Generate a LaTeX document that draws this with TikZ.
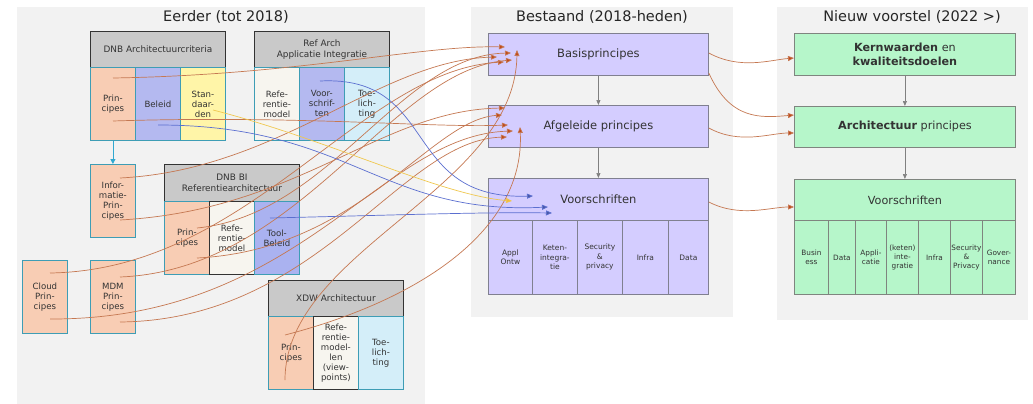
\documentclass[tikz,border=0pt]{standalone}
\usepackage{fontspec}
\setmainfont{DejaVu Sans}
\usetikzlibrary{arrows.meta}
\definecolor{panel}{HTML}{F2F2F2}
\definecolor{hdrgray}{HTML}{C9C9C9}
\definecolor{darkb}{HTML}{333333}
\definecolor{salmon}{HTML}{F8CDB4}
\definecolor{blueb}{HTML}{B4B9F0}
\definecolor{toolb}{HTML}{AAB2F0}
\definecolor{yellowb}{HTML}{FFF5A8}
\definecolor{offw}{HTML}{F7F5EF}
\definecolor{cyanl}{HTML}{D4EEF9}
\definecolor{tealb}{HTML}{3E9DB5}
\definecolor{lav}{HTML}{D4CDFF}
\definecolor{lavb}{HTML}{808090}
\definecolor{mint}{HTML}{B6F6CA}
\definecolor{mintb}{HTML}{7F857F}
\definecolor{txt}{HTML}{333333}
\definecolor{brownl}{HTML}{C57852}
\definecolor{browna}{HTML}{C04A1A}
\definecolor{bluel}{HTML}{5B6FD0}
\definecolor{yell}{HTML}{F0C850}
\definecolor{cyana}{HTML}{30A8D0}
\definecolor{grayarr}{HTML}{808080}
\begin{document}
\begin{tikzpicture}[x=1pt,y=-1pt,
  hdr/.style={draw=darkb, fill=hdrgray, line width=0.9pt, minimum width=135pt, minimum height=36pt, anchor=north west, inner sep=0pt, align=center, text=txt, font=\fontsize{8.9}{11}\selectfont},
  cell/.style={draw=tealb, line width=0.8pt, minimum width=45pt, minimum height=73pt, anchor=north west, inner sep=0pt, align=center, text=txt, font=\fontsize{8.6}{10}\selectfont},
  midbox/.style={draw=lavb, fill=lav, line width=0.8pt, minimum width=220pt, minimum height=42pt, anchor=north west, inner sep=0pt, align=center, text=txt, font=\fontsize{11.5}{13}\selectfont},
  midcell/.style={draw=lavb, fill=lav, line width=0.8pt, minimum height=74pt, anchor=north west, inner sep=0pt, align=center, text=txt, font=\fontsize{7.5}{9.5}\selectfont},
  newbox/.style={draw=mintb, fill=mint, line width=0.8pt, minimum width=221pt, minimum height=42pt, anchor=north west, inner sep=0pt, align=center, text=txt, font=\fontsize{11.2}{13.5}\selectfont},
  newcell/.style={draw=mintb, fill=mint, line width=0.8pt, minimum height=74pt, anchor=north west, inner sep=0pt, align=center, text=txt, font=\fontsize{7.3}{9.2}\selectfont},
  ttl/.style={anchor=base, text=black!85, font=\fontsize{14.5}{16}\selectfont},
  brn/.style={draw=brownl, line width=0.7pt, -{Triangle[length=6pt,width=5pt,fill=browna]}},
  blu/.style={draw=bluel, line width=0.7pt, -{Triangle[length=6pt,width=5pt,fill=bluel!80!black]}},
  yel/.style={draw=yell, line width=0.7pt, -{Triangle[length=6pt,width=5pt,fill=yell!80!orange]}},
  gra/.style={draw=grayarr, line width=0.7pt, -{Triangle[length=5pt,width=4pt]}},
  cya/.style={draw=cyana, line width=0.8pt, -{Triangle[length=5pt,width=5pt]}}
]
\useasboundingbox (0,0) rectangle (1033,404);
\fill[white] (0,0) rectangle (1033,404);
% panels
\fill[panel] (17,7) rectangle (425,404);
\fill[panel] (471,7) rectangle (733,317);
\fill[panel] (777,7) rectangle (1028,320);
% titles
\node[ttl] (t1) at (226,22) {Eerder (tot 2018)};
\node[ttl] (t2) at (602,22) {Bestaand (2018-heden)};
\node[ttl] (t3) at (912,22) {Nieuw voorstel (2022 >)};

% DNB Architectuurcriteria
\node[hdr] (dah) at (90,31) {DNB Architectuurcriteria};
\node[cell, fill=salmon] (dap) at (90,67) {Prin-\\cipes};
\node[cell, fill=blueb] (dab) at (135,67) {Beleid};
\node[cell, fill=yellowb] (das) at (180,67) {Stan-\\daar-\\den};
% Ref Arch
\node[hdr] (rah) at (254,31) {Ref Arch\\Applicatie Integratie};
\node[cell, fill=offw] (rar) at (254,67) {Refe-\\rentie-\\model};
\node[cell, fill=blueb] (rav) at (299,67) {Voor-\\schrif-\\ten};
\node[cell, fill=cyanl] (rat) at (344,67) {Toe-\\lich-\\ting};
% Informatie principes
\node[cell, fill=salmon] (ip) at (90,164) {Infor-\\matie-\\Prin-\\cipes};
% DNB BI
\node[hdr, minimum height=37pt] (bih) at (164,164) {DNB BI\\Referentiearchitectuur};
\node[cell, fill=salmon] (bip) at (164,201) {Prin-\\cipes};
\node[cell, fill=offw, draw=darkb] (bir) at (209,201) {Refe-\\rentie-\\model};
\node[cell, fill=toolb] (bit) at (254,201) {Tool-\\Beleid};
% Cloud, MDM
\node[cell, fill=salmon] (cp) at (22,260) {Cloud\\Prin-\\cipes};
\node[cell, fill=salmon] (mp) at (90,260) {MDM\\Prin-\\cipes};
% XDW
\node[hdr] (xh) at (268,280) {XDW Architectuur};
\node[cell, fill=salmon] (xp) at (268,316) {Prin-\\cipes};
\node[cell, fill=offw, draw=darkb] (xr) at (313,316) {Refe-\\rentie-\\model-\\len\\(view-\\points)};
\node[cell, fill=cyanl] (xt) at (358,316) {Toe-\\lich-\\ting};

% Middle
\node[midbox] (bp) at (488,33) {Basisprincipes};
\node[midbox] (ap) at (488,105) {Afgeleide principes};
\node[midbox] (vs) at (488,178) {Voorschriften};
\node[midcell, minimum width=44pt] (v1) at (488,220) {Appl\\Ontw};
\node[midcell, minimum width=45pt] (v2) at (532,220) {Keten-\\integra-\\tie};
\node[midcell, minimum width=45pt] (v3) at (577,220) {Security\\\&\\privacy};
\node[midcell, minimum width=46pt] (v4) at (622,220) {Infra};
\node[midcell, minimum width=40pt] (v5) at (668,220) {Data};

% Right
\node[newbox] (kw) at (794,33) {\textbf{Kernwaarden} en\\\textbf{kwaliteitsdoelen}};
\node[newbox, minimum height=41pt] (arp) at (794,106) {\textbf{Architectuur} principes};
\node[newbox, minimum height=41pt] (rv) at (794,179) {Voorschriften};
\node[newcell, minimum width=34pt] (r1) at (794,220) {Busin\\ess};
\node[newcell, minimum width=27pt] (r2) at (828,220) {Data};
\node[newcell, minimum width=31pt] (r3) at (855,220) {Appli-\\catie};
\node[newcell, minimum width=32pt] (r4) at (886,220) {(keten)\\inte-\\gratie};
\node[newcell, minimum width=32pt] (r5) at (918,220) {Infra};
\node[newcell, minimum width=32pt] (r6) at (950,220) {Security\\\&\\Privacy};
\node[newcell, minimum width=33pt] (r7) at (982,220) {Gover-\\nance};

% vertical arrows
\draw[cya] (dap.south) -- (ip.north);
\draw[gra] (bp.south) -- (ap.north);
\draw[gra] (ap.south) -- (vs.north);
\draw[gra] (kw.south) -- (arp.north);
\draw[gra] (arp.south) -- (rv.north);

% brown to Basisprincipes
\draw[brn] ([shift={(23,11)}]dap.north west) .. controls (300,75) and (420,45) .. ([shift={(17,14)}]bp.north west);
\draw[brn] ([shift={(30,14)}]ip.north west) .. controls (280,170) and (380,60) .. ([shift={(9,24)}]bp.north west);
\draw[brn] ([shift={(28,13)}]cp.north west) .. controls (250,270) and (360,70) .. ([shift={(16,29)}]bp.north west);
\draw[brn] ([shift={(30,17)}]mp.north west) .. controls (300,270) and (390,70) .. ([shift={(24,27)}]bp.north west);
\draw[brn] ([shift={(33,27)}]bip.north west) .. controls (330,215) and (400,55) .. ([shift={(23,20)}]bp.north west);
\draw[brn] ([shift={(17,64)}]xp.north west) .. controls (285,250) and (515,190) .. ([shift={(29,17)}]bp.north west);
% brown to Afgeleide principes
\draw[brn] ([shift={(23,54)}]dap.north west) .. controls (300,115) and (430,128) .. ([shift={(20,20)}]ap.north west);
\draw[brn] ([shift={(30,56)}]ip.north west) .. controls (300,210) and (380,110) .. ([shift={(17,3)}]ap.north west);
\draw[brn] ([shift={(28,59)}]cp.north west) .. controls (300,320) and (380,135) .. ([shift={(25,26)}]ap.north west);
\draw[brn] ([shift={(30,62)}]mp.north west) .. controls (320,320) and (400,140) .. ([shift={(19,32)}]ap.north west);
\draw[brn] ([shift={(33,57)}]bip.north west) .. controls (360,250) and (430,120) .. ([shift={(14,10)}]ap.north west);
\draw[brn] ([shift={(17,19)}]xp.north west) .. controls (420,300) and (525,230) .. ([shift={(32,22)}]ap.north west);
% blue and yellow to Voorschriften
\draw[blu] ([shift={(23,58)}]dab.north west) .. controls (350,125) and (380,215) .. ([shift={(60,29)}]vs.north west);
\draw[blu] ([shift={(21,14)}]rav.north west) .. controls (440,75) and (400,200) .. ([shift={(45,18)}]vs.north west);
\draw[blu] ([shift={(16,17)}]bit.north west) .. controls (400,215) and (480,212) .. ([shift={(64,35)}]vs.north west);
\draw[yel] ([shift={(33,43)}]das.north west) .. controls (330,140) and (440,195) .. ([shift={(24,23)}]vs.north west);

% middle to right
\draw[brn] ([shift={(0,20)}]bp.north east) .. controls (740,70) and (770,60) .. ([shift={(0,25)}]kw.north west);
\draw[brn] ([shift={(0,40)}]bp.north east) .. controls (730,120) and (760,118) .. ([shift={(0,9)}]arp.north west);
\draw[brn] ([shift={(0,23)}]ap.north east) .. controls (740,145) and (770,133) .. ([shift={(0,27)}]arp.north west);
\draw[brn] ([shift={(0,24)}]vs.north east) .. controls (740,218) and (770,207) .. ([shift={(0,28)}]rv.north west);
\end{tikzpicture}
\end{document}
